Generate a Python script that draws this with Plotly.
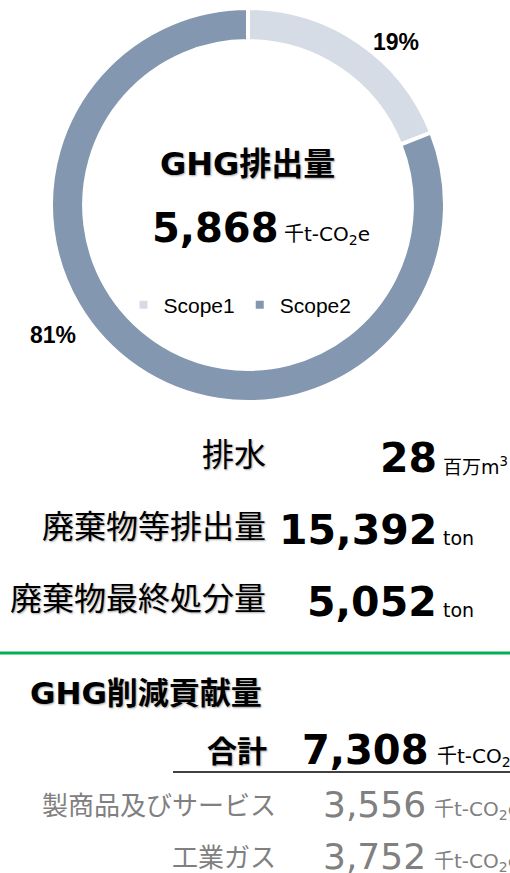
import plotly.graph_objects as go

W, H = 510, 873

# ---------------- data ----------------
scope_labels = ["Scope1", "Scope2"]
scope_values = [1115, 4753]
scope_colors = ["#D6DCE5", "#8497B0"]
ghg_title = "GHG排出量"
ghg_unit = "千t-CO<sub>2</sub>e"

metric_labels = ["排水", "廃棄物等排出量", "廃棄物最終処分量"]
metric_values = [28, 15392, 5052]
metric_units = ["百万m<sup>3</sup>", "ton", "ton"]

contrib_title = "GHG削減貢献量"
contrib_total_label = "合計"
contrib_labels = ["製商品及びサービス", "工業ガス"]
contrib_values = [3556, 3752]
contrib_unit = "千t-CO<sub>2</sub>e"

ghg_total = sum(scope_values)  # 5,868
contrib_total = sum(contrib_values)  # 7,308


def px(x):
    return x / W


def py(y):
    return 1 - y / H


LAT = "DejaVu Sans"
CJK = "Noto Sans CJK JP"
UNIT = f"{LAT}, {CJK}"
SHADOW = "1px 1px 2px rgba(0,0,0,0.35)"

fig = go.Figure()

# donut
cx, cy, r = 248, 205, 197
fig.add_trace(go.Pie(
    labels=scope_labels,
    values=scope_values,
    hole=0.832,
    sort=False,
    direction="clockwise",
    rotation=0,
    textinfo="none",
    marker=dict(colors=scope_colors, line=dict(color="white", width=4)),
    domain=dict(x=[px(cx - r), px(cx + r)], y=[py(cy + r), py(cy - r)]),
    showlegend=True,
))

annotations = []


def ann(text, x, y, xanchor="left", yanchor="middle", size=20, family=CJK,
        color="#000000", shadow="none"):
    annotations.append(dict(
        text=text, x=px(x), y=py(y), xref="paper", yref="paper",
        xanchor=xanchor, yanchor=yanchor, showarrow=False,
        font=dict(size=size, family=family, color=color, shadow=shadow),
        borderpad=0,
    ))


def num_with_unit(num, unit, x_right, y, num_size, unit_size, bold=True,
                  color="#000000", gap=5):
    n = f"{num:,}"
    if bold:
        n = f"<b>{n}</b>"
    ann(n, x_right, y, "right", "middle", num_size, LAT, color=color)
    # align unit baseline with number baseline
    base = y + 0.346 * num_size
    uy = base - 0.346 * unit_size
    ann(unit, x_right + gap, uy, "left", "middle", unit_size, UNIT, color=color)


# percentage labels
pcts = [f"{round(v / ghg_total * 100)}%" for v in scope_values]
pct_pos = [(396, 42), (53, 335)]
for t, (x, y) in zip(pcts, pct_pos):
    ann(f"<b>{t}</b>", x, y, "center", "middle", 23, "Liberation Sans")

# centre texts
ann(f"<b>{ghg_title}</b>", 247, 164, "center", "middle", 32,
    f"{LAT}, {CJK}", shadow=SHADOW)
num_with_unit(ghg_total, ghg_unit, 280, 228, 40, 20, gap=3)

# metric rows
metric_y = [455, 527, 599]
for lab, val, unit, y in zip(metric_labels, metric_values, metric_units, metric_y):
    ann(lab, 267, y - 3, "right", "middle", 32, CJK, shadow=SHADOW)
    num_with_unit(val, unit, 438, y + 3, 41, 19, gap=4)

# contribution section
ann(f"<b>{contrib_title}</b>", 29, 693, "left", "middle", 31,
    f"{LAT}, {CJK}", shadow=SHADOW)
ann(f"<b>{contrib_total_label}</b>", 268, 749, "right", "middle", 30, CJK,
    shadow=SHADOW)
num_with_unit(contrib_total, contrib_unit, 430, 750, 40, 20, gap=6)

contrib_y = [803, 855]
for lab, val, y in zip(contrib_labels, contrib_values, contrib_y):
    ann(lab, 277, y, "right", "middle", 26, CJK, color="#808080")
    num_with_unit(val, contrib_unit, 427, y + 1, 36, 20, bold=False,
                  color="#808080", gap=6)

shapes = [
    dict(type="line", xref="paper", yref="paper", x0=0, x1=1,
         y0=py(653), y1=py(653), line=dict(color="#00B050", width=3)),
    dict(type="line", xref="paper", yref="paper", x0=px(173), x1=1,
         y0=py(772), y1=py(772), line=dict(color="#404040", width=2)),
]

fig.update_layout(
    width=W, height=H,
    margin=dict(l=0, r=0, t=0, b=0),
    paper_bgcolor="white", plot_bgcolor="white",
    annotations=annotations,
    shapes=shapes,
    legend=dict(
        orientation="h", x=px(240), xanchor="center", y=py(305),
        yanchor="middle", font=dict(family="Liberation Sans", size=21,
                                    color="#000000"),
        bgcolor="rgba(0,0,0,0)", itemclick=False,
    ),
)

fig.write_html(
    "out.html",
    config={"displayModeBar": False},
    post_script="document.body.style.margin='0';document.body.style.overflow='hidden';",
)
